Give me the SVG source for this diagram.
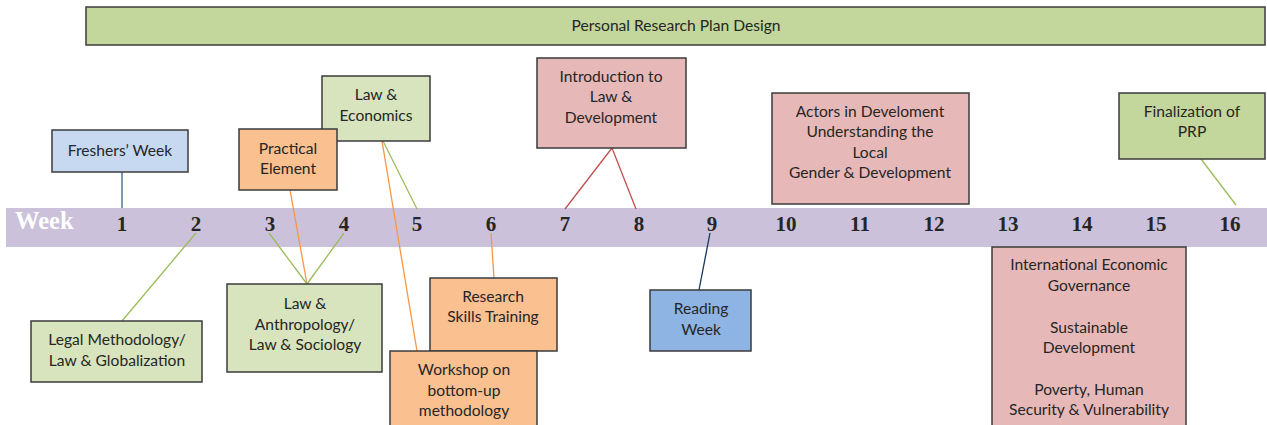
<svg xmlns="http://www.w3.org/2000/svg" width="1267" height="425" viewBox="0 0 1267 425">
<style>
.box{stroke:#3b3b3b;stroke-width:1.5}
.t{font-family:Lato,"Liberation Sans",sans-serif;font-size:15.6px;fill:#262626;text-anchor:middle}
.n{font-family:"Liberation Serif","DejaVu Serif",serif;font-weight:bold;font-size:21px;fill:#262626;text-anchor:middle}
.c{fill:none;stroke-width:1.3}
.green{fill:#C3D69B}.lgreen{fill:#D7E4BD}.orange{fill:#FAC090}.pink{fill:#E6B9B8}.lblue{fill:#C6D9F1}.blue{fill:#8EB4E3}
</style>
<rect x="0" y="0" width="1267" height="425" fill="#ffffff"/>
<g id="timeline">
<rect x="6" y="208" width="1261" height="39" fill="#CCC1DA"/>
<text x="15" y="229" font-family="'Liberation Serif','DejaVu Serif',serif" font-weight="bold" font-size="24.5" fill="#ffffff">Week</text>
<text class="n" x="122" y="231">1</text>
<text class="n" x="196" y="231">2</text>
<text class="n" x="270" y="231">3</text>
<text class="n" x="344" y="231">4</text>
<text class="n" x="417" y="231">5</text>
<text class="n" x="491" y="231">6</text>
<text class="n" x="565" y="231">7</text>
<text class="n" x="639" y="231">8</text>
<text class="n" x="712" y="231">9</text>
<text class="n" x="786" y="231">10</text>
<text class="n" x="860" y="231">11</text>
<text class="n" x="934" y="231">12</text>
<text class="n" x="1008" y="231">13</text>
<text class="n" x="1082" y="231">14</text>
<text class="n" x="1156" y="231">15</text>
<text class="n" x="1230" y="231">16</text>
</g>
<g id="connectors">
<line class="c" x1="122" y1="172" x2="122" y2="208" stroke="#376092"/>
<line class="c" x1="290" y1="190" x2="307" y2="284" stroke="#F79646"/>
<line class="c" x1="382" y1="141" x2="417" y2="351" stroke="#F79646"/>
<line class="c" x1="383" y1="141" x2="417" y2="209" stroke="#9BBB59"/>
<line class="c" x1="612" y1="148" x2="565" y2="209" stroke="#C0504D"/>
<line class="c" x1="612" y1="148" x2="636" y2="209" stroke="#C0504D"/>
<line class="c" x1="1201" y1="159" x2="1236" y2="205" stroke="#9BBB59"/>
<line class="c" x1="196" y1="233" x2="122" y2="321" stroke="#9BBB59"/>
<line class="c" x1="269" y1="233" x2="307" y2="284" stroke="#9BBB59"/>
<line class="c" x1="344" y1="233" x2="307" y2="284" stroke="#9BBB59"/>
<line class="c" x1="491" y1="233" x2="494" y2="278" stroke="#F79646"/>
<line class="c" x1="710" y1="233" x2="699" y2="290" stroke="#17375E"/>
</g>
<g id="prp">
<rect class="box green" x="86" y="7" width="1179" height="38"/>
<text class="t" x="676" y="31">Personal Research Plan Design</text>
</g>
<g id="freshers">
<rect class="box lblue" x="52" y="130" width="136" height="42"/>
<text class="t" x="120" y="156">Freshers’ Week</text>
</g>
<g id="economics">
<rect class="box lgreen" x="322" y="76" width="108" height="65"/>
<text class="t" x="376" y="100">Law &amp;</text>
<text class="t" x="376" y="121">Economics</text>
</g>
<g id="practical">
<rect class="box orange" x="239" y="129" width="98" height="61"/>
<text class="t" x="288" y="154">Practical</text>
<text class="t" x="288" y="174">Element</text>
</g>
<g id="intro">
<rect class="box pink" x="537" y="58" width="149" height="90"/>
<text class="t" x="611" y="82">Introduction to</text>
<text class="t" x="611" y="102">Law &amp;</text>
<text class="t" x="611" y="123">Development</text>
</g>
<g id="actors">
<rect class="box pink" x="772" y="93" width="197" height="111"/>
<text class="t" x="870" y="117">Actors in Develoment</text>
<text class="t" x="870" y="137">Understanding the</text>
<text class="t" x="870" y="158">Local</text>
<text class="t" x="870" y="178">Gender &amp; Development</text>
</g>
<g id="finalization">
<rect class="box green" x="1119" y="93" width="146" height="66"/>
<text class="t" x="1192" y="117">Finalization of</text>
<text class="t" x="1192" y="137">PRP</text>
</g>
<g id="legal">
<rect class="box lgreen" x="31" y="321" width="171" height="61"/>
<text class="t" x="117" y="345">Legal Methodology/</text>
<text class="t" x="117" y="366">Law &amp; Globalization</text>
</g>
<g id="anthropology">
<rect class="box lgreen" x="227" y="284" width="155" height="88"/>
<text class="t" x="305" y="309">Law &amp;</text>
<text class="t" x="305" y="330">Anthropology/</text>
<text class="t" x="305" y="350">Law &amp; Sociology</text>
</g>
<g id="research">
<rect class="box orange" x="430" y="278" width="127" height="73"/>
<text class="t" x="493" y="302">Research</text>
<text class="t" x="493" y="322">Skills Training</text>
</g>
<g id="workshop">
<rect class="box orange" x="390" y="351" width="147" height="80"/>
<text class="t" x="464" y="375">Workshop on</text>
<text class="t" x="464" y="396">bottom-up</text>
<text class="t" x="464" y="416">methodology</text>
</g>
<g id="reading">
<rect class="box blue" x="650" y="290" width="101" height="61"/>
<text class="t" x="701" y="314">Reading</text>
<text class="t" x="701" y="335">Week</text>
</g>
<g id="international">
<rect class="box pink" x="992" y="247" width="194" height="185"/>
<text class="t" x="1089" y="270">International Economic</text>
<text class="t" x="1089" y="291">Governance</text>
<text class="t" x="1089" y="333">Sustainable</text>
<text class="t" x="1089" y="353">Development</text>
<text class="t" x="1089" y="395">Poverty, Human</text>
<text class="t" x="1089" y="415">Security &amp; Vulnerability</text>
</g>
</svg>
